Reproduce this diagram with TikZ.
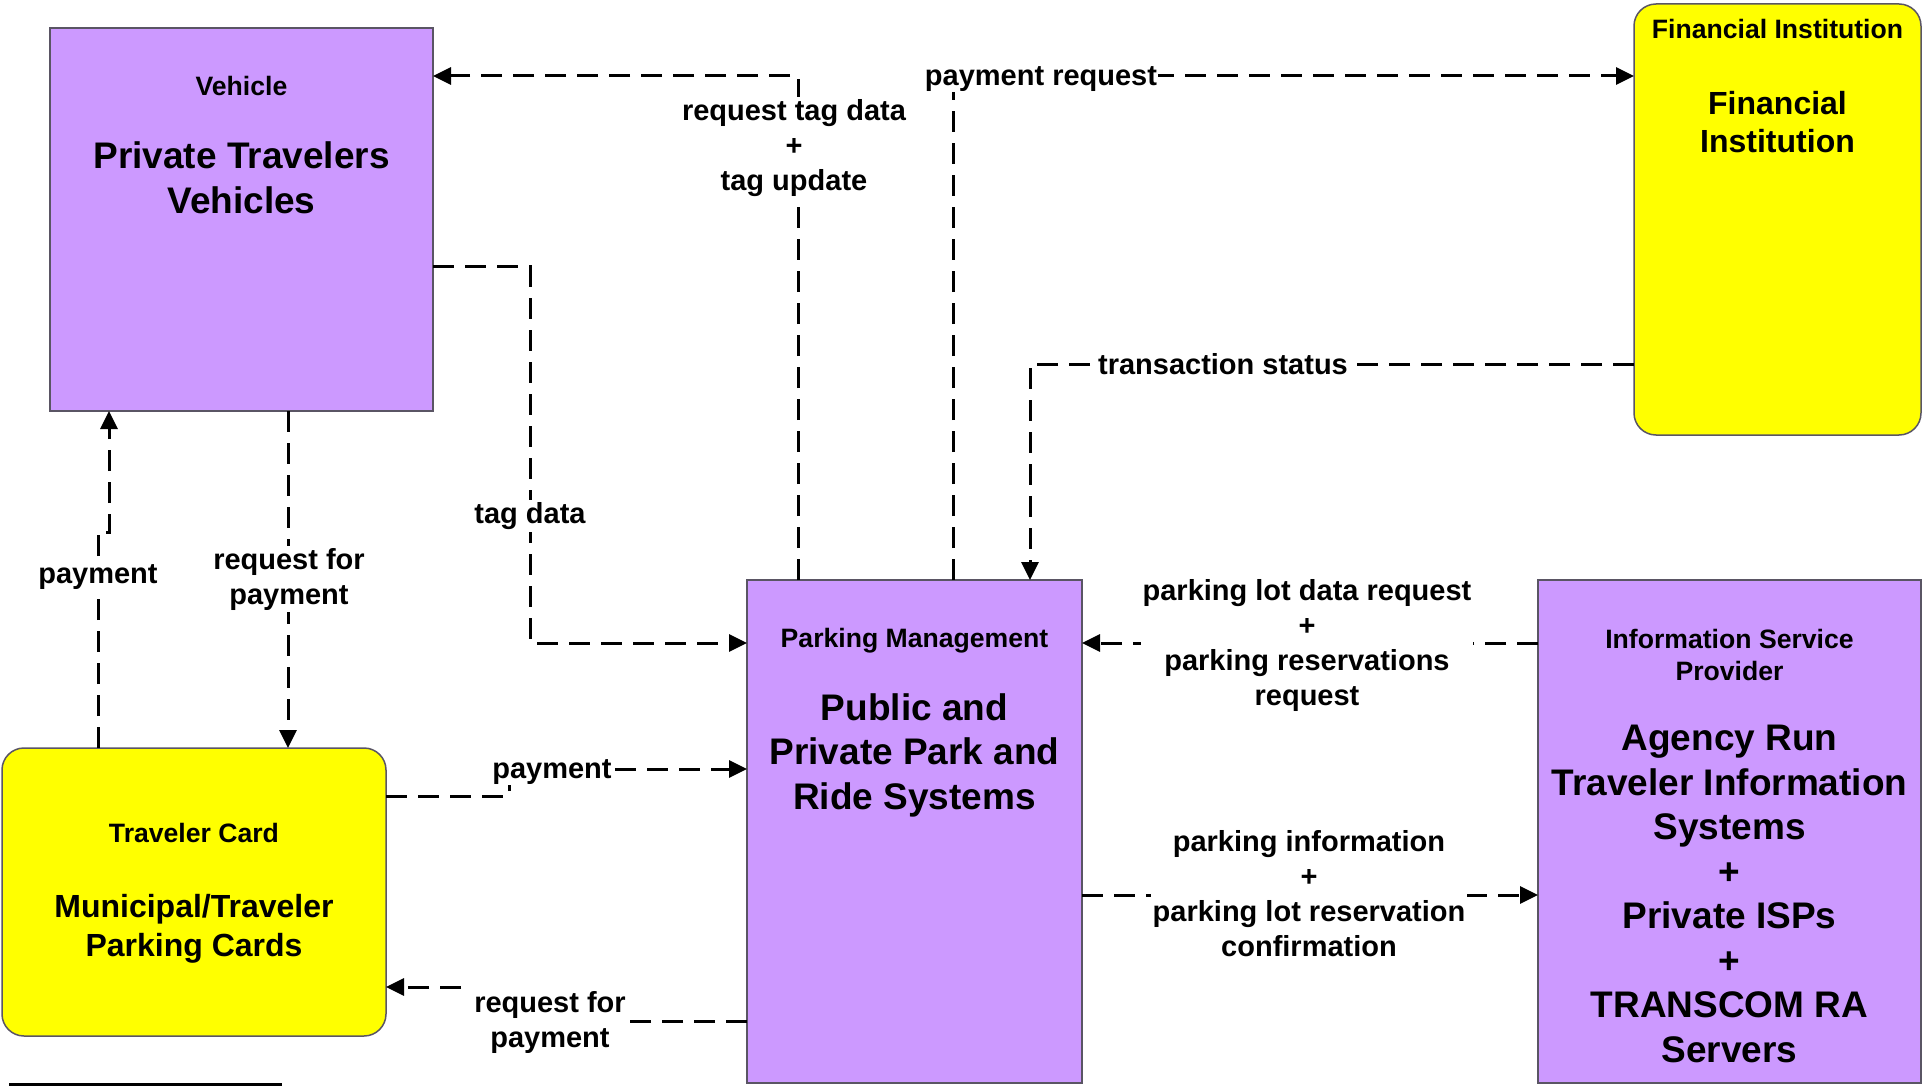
\documentclass[tikz,border=0pt]{standalone}
\usepackage{fontspec}
\setmainfont{Liberation Sans}
\usetikzlibrary{arrows.meta}
\definecolor{lav}{RGB}{204,153,255}
\definecolor{yel}{RGB}{255,255,0}
\definecolor{edge}{RGB}{90,85,100}
\begin{document}
\begin{tikzpicture}[x=1pt,y=-1pt,
  pbox/.style={draw=edge,line width=1.5pt,fill=lav,inner sep=0pt,outer sep=0pt},
  ybox/.style={draw=edge,line width=1.5pt,fill=yel,inner sep=0pt,outer sep=0pt,rounded corners=22pt},
  small/.style={font=\fontsize{26.6pt}{32pt}\selectfont\bfseries,align=center,inner sep=0pt},
  big/.style={font=\fontsize{37pt}{44.5pt}\selectfont\bfseries,align=center,inner sep=0pt},
  mid/.style={font=\fontsize{32pt}{38.5pt}\selectfont\bfseries,align=center,inner sep=0pt},
  lbl/.style={font=\fontsize{29pt}{35pt}\selectfont\bfseries,align=center,fill=white,inner sep=2pt},
  flow/.style={line width=3pt,dash pattern=on 21pt off 11pt,-{Triangle[length=18pt,width=17pt]}}
]
\useasboundingbox (0,0) rectangle (1923,1086);
\fill[white] (0,0) rectangle (1923,1086);

% boxes
\node[pbox,minimum width=383pt,minimum height=383pt] (Veh) at (241.5,219.5) {};
\node[ybox,minimum width=287pt,minimum height=431pt] (FI) at (1777.5,219.5) {};
\node[pbox,minimum width=335pt,minimum height=503pt] (PM) at (914.5,831.5) {};
\node[pbox,minimum width=383pt,minimum height=503pt] (ISP) at (1729.5,831.5) {};
\node[ybox,minimum width=384pt,minimum height=288pt] (TC) at (194,892) {};

% box texts
\node[small] (vehT) at (241.5,86) {Vehicle};
\node[big] (vehN) at (241.5,178) {Private Travelers\\Vehicles};
\node[small] (fiT) at (1777.5,29) {Financial Institution};
\node[mid] (fiN) at (1777.5,122) {Financial\\Institution};
\node[small] (pmT) at (914.5,641) {Parking Management};
\node[big] (pmN) at (914.5,755) {Public and\\Private Park and\\Ride Systems};
\node[small] (ispT) at (1729.5,655) {Information Service\\Provider};
\node[big] (ispN) at (1729.5,894) {Agency Run\\Traveler Information\\Systems\\+\\Private ISPs\\+\\TRANSCOM RA\\Servers};
\node[small] (tcT) at (194,833) {Traveler Card};
\node[mid] (tcN) at (194,929) {Municipal/Traveler\\Parking Cards};

% connectors
\draw[flow] (798,0 |- PM.north) -- (798,76) -- (798,76 -| Veh.east);
\node[lbl] (l1) at (794,148) {request tag data\\+\\tag update};

\draw[flow] (953,0 |- PM.north) -- (953,76) -- (953,76 -| FI.west);
\node[lbl,inner sep=1pt] (l2) at (1041,79) {payment request};

\draw[flow] (FI.west |- 0,364) -- (1030,364) -- (1030,0 |- PM.north);
\node[lbl] (l3) at (1223,364) {transaction status};

\draw[flow] (Veh.east |- 0,267) -- (530,267) -- (530,643) -- (530,643 -| PM.west);
\node[lbl] (l4) at (530,516) {tag data};

\draw[flow] (288,0 |- Veh.south) -- (288,0 |- TC.north);
\node[lbl] (l5) at (289,579) {request for\\payment};

\draw[flow] (98,0 |- TC.north) -- (98,532) -- (109,532) -- (109,0 |- Veh.south);
\node[lbl] (l6) at (98,577) {payment};

\draw[flow] (TC.east |- 0,796) -- (509,796) -- (509,769) -- (509,769 -| PM.west);
\node[lbl,inner sep=1pt] (l7) at (552,772) {payment};

\draw[flow] (PM.west |- 0,1021) -- (550,1021) -- (550,987) -- (550,987 -| TC.east);
\node[lbl,inner ysep=6pt] (l8) at (550,1022) {request for\\payment};

\draw[flow] (ISP.west |- 0,643) -- (PM.east |- 0,643);
\node[lbl] (l9) at (1307,645) {parking lot data request\\+\\parking reservations\\request};

\draw[flow] (PM.east |- 0,895) -- (ISP.west |- 0,895);
\node[lbl] (l10) at (1309,894) {parking information\\+\\parking lot reservation\\confirmation};

% footnote rule
\draw[line width=3pt] (9,1084.5) -- (282,1084.5);
\end{tikzpicture}
\end{document}
